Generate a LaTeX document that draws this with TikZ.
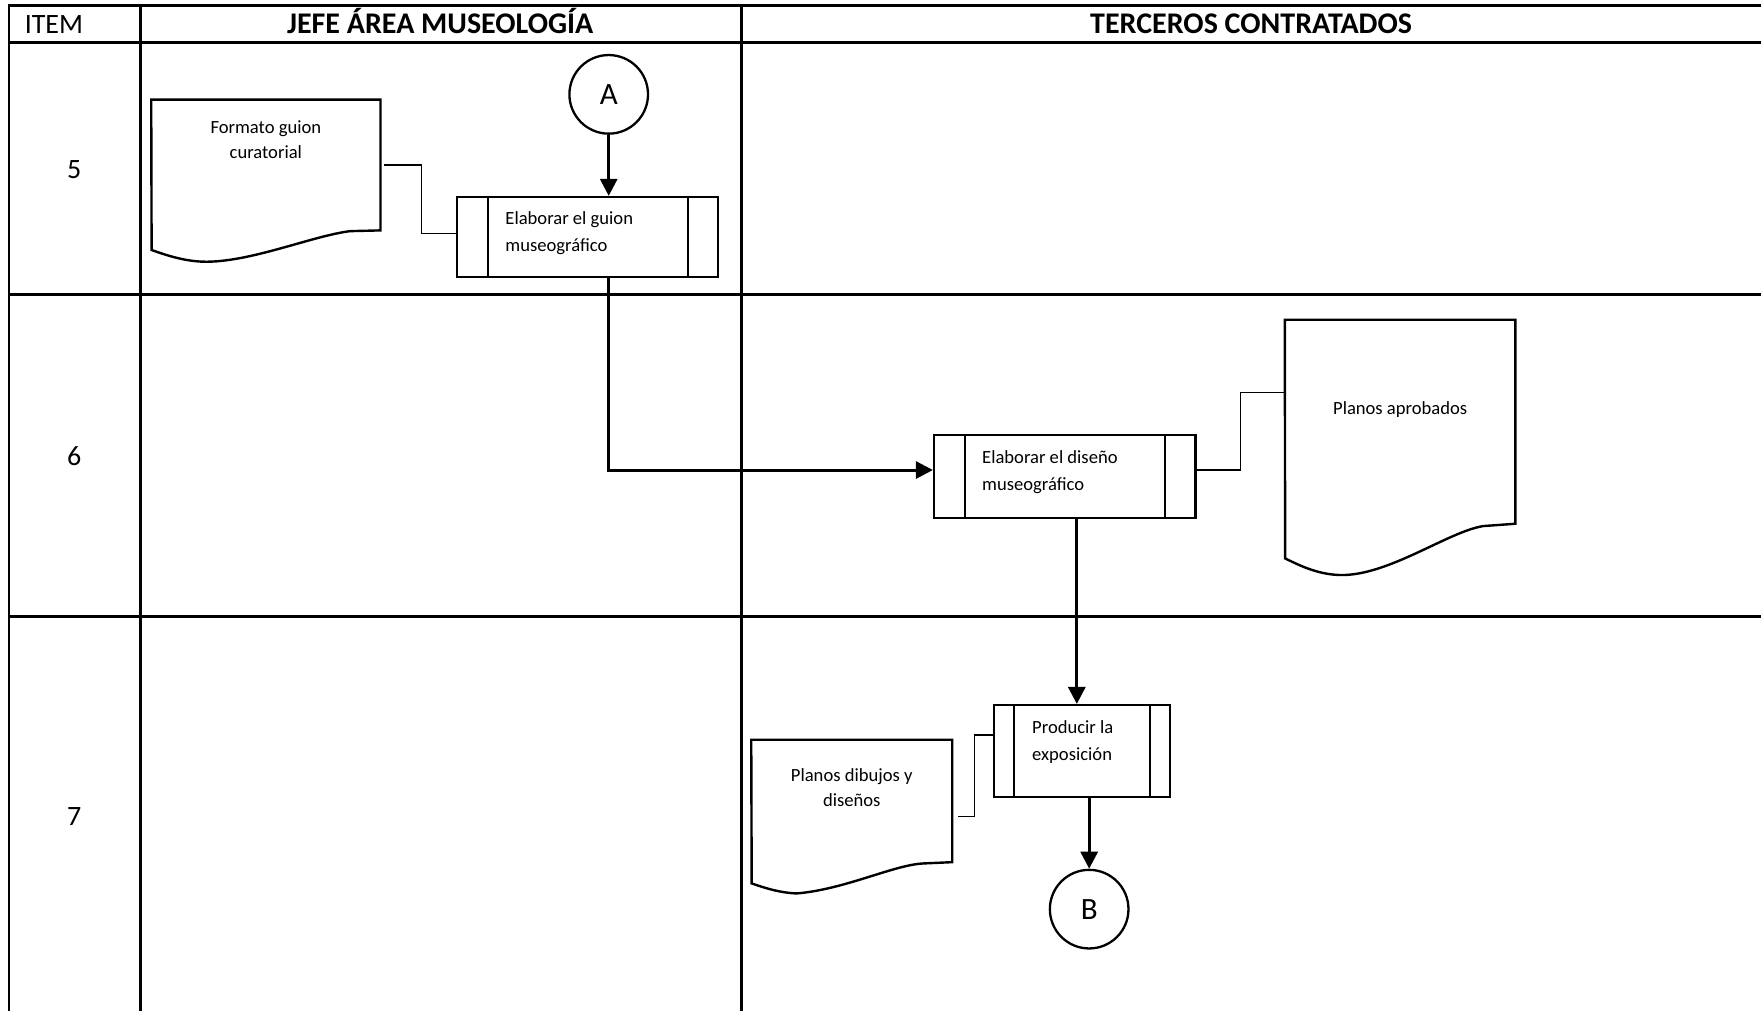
\documentclass[tikz,border=0pt]{standalone}
\usepackage{fontspec}
\setmainfont{Carlito}
\usetikzlibrary{arrows.meta,calc}
\tikzset{
 gridline/.style={line width=1.3pt, line cap=rect},
 hdr/.style={font=\fontsize{15}{18}\selectfont\bfseries, inner sep=0, anchor=base},
 itmhdr/.style={font=\fontsize{14}{16}\selectfont, inner sep=0, anchor=base},
 itm/.style={font=\fontsize{14}{16}\selectfont, inner sep=0},
 proc/.style={draw, line width=1.15pt, inner sep=0},
 procinner/.style={line width=1.15pt},
 ptext/.style={font=\fontsize{9.3}{13.5}\selectfont, align=left, inner sep=0, anchor=west},
 dtext/.style={font=\fontsize{9.3}{12.6}\selectfont, align=center, inner sep=0},
 docbody/.style={inner sep=0},
 docline/.style={line width=1.2pt, line join=miter},
 conn/.style={draw, circle, line width=1.15pt, minimum size=39.3pt, inner sep=0, font=\fontsize{15.5}{18}\selectfont},
 flow/.style={line width=1.5pt, -{Triangle[length=8.5pt,width=8.5pt]}},
 thinline/.style={line width=0.6pt},
}
\begin{document}
\begin{tikzpicture}[x=0.5615pt,y=-0.5615pt]
\useasboundingbox (0,0) rectangle (1568,900);
% table grid
\draw[gridline] (8,5) -- (1568,5);
\draw[gridline] (8,38) -- (1568,38);
\draw[gridline] (8,262) -- (1568,262);
\draw[gridline] (8,549) -- (1568,549);
\draw[gridline] (8,5) -- (8,905);
\draw[gridline] (125,5) -- (125,905);
\draw[gridline] (660,5) -- (660,905);
% headers
\node[itmhdr] (hitem) at (48,29.5) {ITEM};
\node[hdr] (hjefe) at (392,29.5) {JEFE ÁREA MUSEOLOGÍA};
\node[hdr] (hterc) at (1114,29.5) {TERCEROS CONTRATADOS};
\node[itm] (r5) at (66,151) {5};
\node[itm] (r6) at (66,406) {6};
\node[itm] (r7) at (66,727) {7};
% connectors A, B
\node[conn] (A) at (542,84) {A};
\node[conn] (B) at (969.8,809.5) {B};
% process boxes
\node[proc, minimum width=130.5pt, minimum height=40.0pt] (b1) at (523.2,211.05) {};
\draw[procinner] ([xshift=16.0pt]b1.north west) -- ([xshift=16.0pt]b1.south west);
\draw[procinner] ([xshift=-15.5pt]b1.north east) -- ([xshift=-15.5pt]b1.south east);
\node[ptext] (b1t) at (449.7,208) {Elaborar el guion\\museográfico};
\node[proc, minimum width=130.7pt, minimum height=41.3pt] (b2) at (948.05,424.2) {};
\draw[procinner] ([xshift=15.9pt]b2.north west) -- ([xshift=15.9pt]b2.south west);
\draw[procinner] ([xshift=-15.7pt]b2.north east) -- ([xshift=-15.7pt]b2.south east);
\node[ptext] (b2t) at (874.2,420) {Elaborar el diseño\\museográfico};
\node[proc, minimum width=88.0pt, minimum height=45.8pt] (b3) at (963.5,668.6) {};
\draw[procinner] ([xshift=10.5pt]b3.north west) -- ([xshift=10.5pt]b3.south west);
\draw[procinner] ([xshift=-10.6pt]b3.north east) -- ([xshift=-10.6pt]b3.south east);
\node[ptext] (b3t) at (918.7,661) {Producir la\\exposición};
% documents
\node[docbody, minimum width=114.2pt, minimum height=65.0pt] (d1) at (236.7,146.9) {};
\draw[docline] (d1.north west) -- (d1.north east) -- (d1.south east) -- (311.7,205.8)
  .. controls (278,210) and (222,234) .. (181,233)
  .. controls (165,232.5) and (150,228) .. (135,222.6) -- cycle;
\node[dtext] (d1t) at (236.7,124) {Formato guion\\curatorial};
\node[docbody, minimum width=114.9pt, minimum height=101.6pt] (d2) at (1246.65,375.5) {};
\draw[docline] (d2.north west) -- (d2.north east) -- (d2.south east) -- (1320.8,468.4)
  .. controls (1290,473) and (1236,513) .. (1193.2,512)
  .. controls (1175,511.5) and (1160,505) .. (1144.3,497.2) -- cycle;
\node[dtext] (d2t) at (1246.7,365) {Planos aprobados};
\node[docbody, minimum width=100.1pt, minimum height=60.8pt] (d3) at (758.4,713.15) {};
\draw[docline] (d3.north west) -- (d3.north east) -- (d3.south east) -- (822.2,768.8)
  .. controls (796,770) and (752,792) .. (709.4,795.5)
  .. controls (695,795) and (682,791) .. (669.3,786.6) -- cycle;
\node[dtext] (d3t) at (758.4,701.2) {Planos dibujos y\\diseños};
% flow
\coordinate (k1) at (542,418.5);
\coordinate (k2) at (1104.2,349.7);
\coordinate (k3) at (958.8,0);
\coordinate (k4) at (867.6,654.5);
\coordinate (c1) at (375,208);
\draw[flow] (A.south) -- (A.south |- b1.north);
\draw[flow] (A.south |- b1.south) -- (k1) -- (k1 -| b2.west);
\draw[flow] (k3 |- b2.south) -- (k3 |- b3.north);
\draw[flow] (B.north |- b3.south) -- (B.north);
\draw[thinline] ([xshift=1.6pt]d1.east) -| (c1) -- (c1 -| b1.west);
\draw[thinline] (k1 -| b2.east) -| (k2) -- (k2 -| d2.west);
\draw[thinline] ([xshift=2.9pt,yshift=-7.9pt]d3.east) -| (k4) -- (k4 -| b3.west);
\end{tikzpicture}
\end{document}
